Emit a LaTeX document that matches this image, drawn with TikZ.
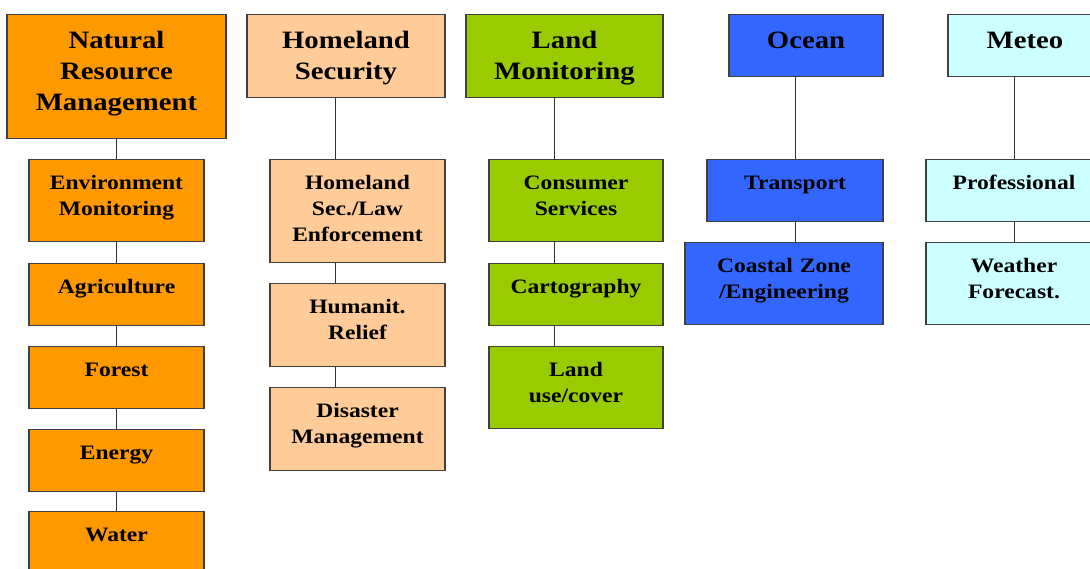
\documentclass[tikz,border=0pt]{standalone}
\usepackage{fontspec}
\setmainfont{Liberation Serif}[FakeStretch=1.15]
\definecolor{nrmfill}{HTML}{FF9900}
\definecolor{hsfill}{HTML}{FFCC99}
\definecolor{lmfill}{HTML}{99CC00}
\definecolor{ocfill}{HTML}{3366FF}
\definecolor{mefill}{HTML}{CCFFFF}
\definecolor{boxline}{HTML}{404040}

\begin{document}
\begin{tikzpicture}[x=1pt, y=-1pt,
box/.style={draw=boxline, line width=1.3pt, align=center, anchor=north,
  inner xsep=0pt, inner ysep=0pt, text height=30.3pt,
  font=\bfseries\fontsize{20.5}{26}\selectfont},
head/.style={box, text height=34.3pt, font=\bfseries\fontsize{25}{31}\selectfont},
link/.style={draw=black!80, line width=1pt}]
\useasboundingbox (0,0) rectangle (1090,568);
%natural resources
	\node[head, fill=nrmfill, text width=219pt, text depth=89.7pt] (nrm) at (116.5,14) {Natural\\Resource\\Management};
	\node[box, fill=nrmfill, text width=175pt, text depth=51.7pt] (env) at (116.5,159) {Environment\\Monitoring};
	\node[box, fill=nrmfill, text width=175pt, text depth=31.7pt] (agri) at (116.5,263) {Agriculture};
	\node[box, fill=nrmfill, text width=175pt, text depth=31.7pt] (forest) at (116.5,346) {Forest};
	\node[box, fill=nrmfill, text width=175pt, text depth=31.7pt] (energy) at (116.5,429) {Energy};
	\node[box, fill=nrmfill, text width=175pt, text depth=31.7pt] (water) at (116.5,511) {Water};
%homeland security
	\node[head, fill=hsfill, text width=198pt, text depth=48.7pt] (hs) at (346,14) {Homeland\\Security};
	\node[box, fill=hsfill, text width=175pt, text depth=72.7pt] (law) at (357.5,159) {Homeland\\Sec./Law\\Enforcement};
	\node[box, fill=hsfill, text width=175pt, text depth=52.7pt] (relief) at (357.5,283) {Humanit.\\Relief};
	\node[box, fill=hsfill, text width=175pt, text depth=52.7pt] (disaster) at (357.5,387) {Disaster\\Management};
%land monitoring
	\node[head, fill=lmfill, text width=197pt, text depth=48.7pt] (lm) at (564.5,14) {Land\\Monitoring};
	\node[box, fill=lmfill, text width=174pt, text depth=51.7pt] (consumer) at (576,159) {Consumer\\Services};
	\node[box, fill=lmfill, text width=174pt, text depth=31.7pt] (carto) at (576,263) {Cartography};
	\node[box, fill=lmfill, text width=174pt, text depth=51.7pt] (landuse) at (576,346) {Land\\use/cover};
%ocean
	\node[head, fill=ocfill, text width=154pt, text depth=27.7pt] (ocean) at (806,14) {Ocean};
	\node[box, fill=ocfill, text width=176pt, text depth=31.7pt] (transport) at (795,159) {Transport};
	\node[box, fill=ocfill, text width=198pt, text depth=51.7pt] (coastal) at (784,242) {Coastal Zone\\/Engineering};
%meteo
	\node[head, fill=mefill, text width=154pt, text depth=27.7pt] (meteo) at (1025,14) {Meteo};
	\node[box, fill=mefill, text width=176pt, text depth=31.7pt] (prof) at (1014,159) {Professional};
	\node[box, fill=mefill, text width=176pt, text depth=51.7pt] (weather) at (1014,242) {Weather\\Forecast.};

	\coordinate (hsx) at (335,0);
	\coordinate (lmx) at (554,0);
	\foreach \a/\b in {nrm/env, env/agri, agri/forest, forest/energy, energy/water}
		\draw[link] (\a.south) -- (\b.north);
	\foreach \a/\b in {hs/law, law/relief, relief/disaster}
		\draw[link] (\a.south -| hsx) -- (\b.north -| hsx);
	\foreach \a/\b in {lm/consumer, consumer/carto, carto/landuse}
		\draw[link] (\a.south -| lmx) -- (\b.north -| lmx);
	\draw[link] (ocean.south -| transport) -- (transport.north);
	\draw[link] (transport.south) -- (coastal.north -| transport);
	\draw[link] (meteo.south -| prof) -- (prof.north);
	\draw[link] (prof.south) -- (weather.north);
\end{tikzpicture}
\end{document}
